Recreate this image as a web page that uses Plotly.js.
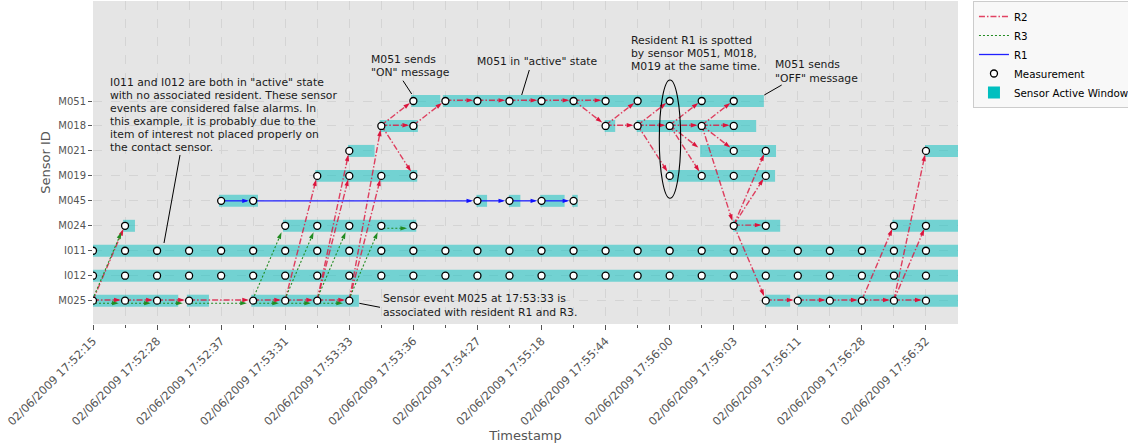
<!DOCTYPE html>
<html><head><meta charset="utf-8">
<script src="https://cdn.plot.ly/plotly-3.0.1.min.js"></script>
<style>html,body{margin:0;padding:0;background:#fff;}#chart{width:1128px;height:443px;}</style>
</head><body><div id="chart"></div>
<script>
// ---------- data ----------
const sensors = ['M025','I012','I011','M024','M045','M019','M021','M018','M051'];
const tickIdx = [0,2,4,6,8,10,12,14,16,18,20,22,24,26];
const tickLabels = ['02/06/2009 17:52:15','02/06/2009 17:52:28','02/06/2009 17:52:37','02/06/2009 17:53:31',
  '02/06/2009 17:53:33','02/06/2009 17:53:36','02/06/2009 17:54:27','02/06/2009 17:55:18',
  '02/06/2009 17:55:44','02/06/2009 17:56:00','02/06/2009 17:56:03','02/06/2009 17:56:11',
  '02/06/2009 17:56:28','02/06/2009 17:56:32'];

// measurement event indices per sensor
const measM025 = [0,1,2,3,5,6,7,8,21,22,23,24,25,26];
const measI012 = [0,1,2,3,4,5,6,7,8,9,10,11,12,13,14,15,16,17,18,19,20,21,22,23,24,25,26];
const measI011 = [0,1,2,3,4,5,6,7,8,9,10,11,12,13,14,15,16,17,18,19,20,21,22,23,24,25,26];
const measM024 = [1,6,7,8,9,10,20,21,25,26];
const measM045 = [4,5,12,13,14,15];
const measM019 = [7,8,9,10,18,19,20,21];
const measM021 = [8,20,21,26];
const measM018 = [9,10,16,17,18,19,20];
const measM051 = [10,11,12,13,14,15,16,17,18,19,20];

// sensor active windows [start, end] per sensor
const winM025 = [[0,2.66],[2.93,3.62],[4.94,8.3],[20.99,21.76],[22,27]];
const winI012 = [[0,27]];
const winI011 = [[0,27]];
const winM024 = [[0.94,1.31],[5.93,10.09],[19.98,21.45],[24.95,27]];
const winM045 = [[3.93,5.15],[11.97,12.3],[12.98,13.34],[13.96,14.72],[14.96,15.13]];
const winM019 = [[6.94,10.12],[17.94,21.29]];
const winM021 = [[7.96,8.79],[18.95,21.32],[25.97,27]];
const winM018 = [[8.95,10.14],[15.97,16.3],[16.97,20.7]];
const winM051 = [[9.93,10.84],[10.92,20.94]];

// resident transitions [fromSensor, fromIdx, toSensor, toIdx]
const pathR2 = [
 ['M025',0,'M024',1],['M025',0,'M025',1],['M025',1,'M025',2],['M025',2,'M025',3],['M025',3,'M025',5],
 ['M025',5,'M025',6],['M025',6,'M025',7],['M025',7,'M025',8],
 ['M025',6,'M019',7],['M025',7,'M021',8],['M025',7,'M019',8],['M025',8,'M019',9],['M025',8,'M018',9],
 ['M018',9,'M018',10],['M018',9,'M051',10],['M018',9,'M019',10],['M018',10,'M051',11],
 ['M051',11,'M051',12],['M051',12,'M051',13],['M051',13,'M051',14],['M051',14,'M051',15],['M051',15,'M051',16],
 ['M051',15,'M018',16],['M018',16,'M018',17],['M018',16,'M051',17],
 ['M018',17,'M051',18],['M018',17,'M018',18],['M018',17,'M019',18],
 ['M018',18,'M051',19],['M018',18,'M018',19],['M018',18,'M021',19],['M018',18,'M019',19],
 ['M018',19,'M051',20],['M018',19,'M018',20],['M018',19,'M021',20],['M018',19,'M024',20],
 ['M024',20,'M024',21],['M024',20,'M021',21],['M024',20,'M019',21],['M024',20,'M025',21],
 ['M025',21,'M025',22],['M025',22,'M025',23],['M025',23,'M025',24],['M025',24,'M025',25],['M025',25,'M025',26],
 ['M025',24,'M024',25],['M025',25,'M024',26],['M025',25,'M021',26]
];
const pathR3 = [
 ['M025',0,'M024',1],['M025',0,'M025',1],['M025',1,'M025',2],['M025',2,'M025',3],['M025',3,'M025',5],
 ['M025',5,'M025',6],['M025',6,'M025',7],['M025',7,'M025',8],
 ['M025',5,'M024',6],['M025',6,'M024',7],['M025',7,'M024',8],['M025',8,'M024',9],['M024',9,'M024',10]
];
const pathR1 = [
 ['M045',4,'M045',5],['M045',5,'M045',12],['M045',12,'M045',13],['M045',13,'M045',14],['M045',14,'M045',15]
];

// ---------- layout geometry ----------
const W = 1128, H = 443;
const MARG = {l:93, r:170, t:1, b:119, autoexpand:false};
const XR = [0, 27], YR = [-0.934, 12.006];
const pxX = (W - MARG.l - MARG.r) / (XR[1] - XR[0]);
const pxY = (H - MARG.t - MARG.b) / (YR[1] - YR[0]);
const toX = px => XR[0] + (px - MARG.l) / pxX;
const toY = py => YR[1] - (py - MARG.t) / pxY;

const measBySensor = {M025:measM025,I012:measI012,I011:measI011,M024:measM024,M045:measM045,M019:measM019,M021:measM021,M018:measM018,M051:measM051};
const winBySensor = {M025:winM025,I012:winI012,I011:winI011,M024:winM024,M045:winM045,M019:winM019,M021:winM021,M018:winM018,M051:winM051};

// bars
const barY = [], barBase = [], barLen = [];
sensors.forEach((s, r) => winBySensor[s].forEach(w => { barY.push(r); barBase.push(w[0]); barLen.push(w[1]-w[0]); }));
// measurements
const mX = [], mY = [];
sensors.forEach((s, r) => measBySensor[s].forEach(i => { mX.push(i); mY.push(r); }));

function buildArrows(path, off, gap) {
  const lx = [], ly = [], hx = [], hy = [], ha = [];
  path.forEach(([s1,i1,s2,i2]) => {
    const X1 = i1*pxX + off[0], Y1 = -sensors.indexOf(s1)*pxY + off[1];
    const X2 = i2*pxX + off[0], Y2 = -sensors.indexOf(s2)*pxY + off[1];
    const dx = X2-X1, dy = Y2-Y1, len = Math.hypot(dx,dy);
    const ux = dx/len, uy = dy/len;
    const tx = X2 - ux*gap, ty = Y2 - uy*gap;
    lx.push(X1/pxX, (tx - ux*2)/pxX, null);
    ly.push(-Y1/pxY, -(ty - uy*2)/pxY, null);
    hx.push(tx/pxX); hy.push(-ty/pxY);
    ha.push(Math.atan2(ux, -uy)*180/Math.PI);
  });
  return {lx, ly, hx, hy, ha};
}
const a2 = buildArrows(pathR2, [0,-0.7], 4.3);
const a3 = buildArrows(pathR3, [-2,2.5], 4.3);
const a1 = buildArrows(pathR1, [0,0], 4.3);

const FONT = 'DejaVu Sans, Verdana, sans-serif';
const traces = [
  {type:'bar', orientation:'h', y:barY, base:barBase, x:barLen, width:0.48,
   marker:{color:'rgba(0,191,191,0.5)', line:{width:0}}, showlegend:false, hoverinfo:'skip'},
  {type:'bar', orientation:'h', y:[null], x:[null], name:'Sensor Active Window', legendrank:5,
   marker:{color:'rgb(0,191,191)'}, showlegend:true},
  {type:'scatter', mode:'lines', x:a2.lx, y:a2.ly, name:'R2', legendrank:1,
   line:{color:'rgba(220,20,60,0.8)', width:1.4, dash:'6px,2px,1.5px,2px'}},
  {type:'scatter', mode:'lines', x:a3.lx, y:a3.ly, name:'R3', legendrank:2,
   line:{color:'#228B22', width:1.1, dash:'2px,2px'}},
  {type:'scatter', mode:'lines', x:a1.lx, y:a1.ly, name:'R1', legendrank:3,
   line:{color:'#2020ff', width:1.3}},
  {type:'scatter', mode:'markers', x:a2.hx, y:a2.hy, showlegend:false, hoverinfo:'skip',
   marker:{symbol:'arrow', size:7, angle:a2.ha, color:'#dc143c', line:{width:0}}},
  {type:'scatter', mode:'markers', x:a3.hx, y:a3.hy, showlegend:false, hoverinfo:'skip',
   marker:{symbol:'arrow', size:7, angle:a3.ha, color:'#228B22', line:{width:0}}},
  {type:'scatter', mode:'markers', x:a1.hx, y:a1.hy, showlegend:false, hoverinfo:'skip',
   marker:{symbol:'arrow', size:7, angle:a1.ha, color:'#1010ff', line:{width:0}}},
  {type:'scatter', mode:'markers', x:mX, y:mY, name:'Measurement', legendrank:4,
   marker:{symbol:'circle', size:7, color:'#ffffff', line:{color:'#000000', width:1.3}}}
];

// text notes: one annotation per line, placed at measured pixel centres
function note(px, py0, step, lines) {
  return lines.map((t, k) => ({x:toX(px), y:toY(py0 + k*step), xref:'x', yref:'y', text:t, showarrow:false,
    xanchor:'left', yanchor:'middle', align:'left', borderpad:0, borderwidth:0,
    font:{family:FONT, size:10.8, color:'#1a1a1a'}}));
}
const seg = (x0,y0,x1,y1) => ({type:'line', xref:'x', yref:'y', x0:toX(x0), y0:toY(y0), x1:toX(x1), y1:toY(y1),
  line:{color:'#000', width:1}});

const annotations = [].concat(
  note(110, 82.7, 12.9, ['I011 and I012 are both in "active" state','with no associated resident. These sensor',
    'events are considered false alarms. In','this example, it is probably due to the',
    'item of interest not placed properly on','the contact sensor.']),
  note(370.5, 59.3, 13.2, ['M051 sends','"ON" message']),
  note(476.5, 61, 13, ['M051 in "active" state']),
  note(631, 40, 13.3, ['Resident R1 is spotted','by sensor M051, M018,','M019 at the same time.']),
  note(775, 64.5, 13.8, ['M051 sends','"OFF" message']),
  note(382.7, 298.5, 14, ['Sensor event M025 at 17:53:33 is','associated with resident R1 and R3.'])
);

const layout = {
  width:W, height:H, autosize:false,
  margin:MARG,
  paper_bgcolor:'#ffffff', plot_bgcolor:'#e5e5e5',
  barmode:'overlay',
  font:{family:FONT, size:10, color:'#555'},
  xaxis:{range:XR, tickmode:'array', tickvals:tickIdx, ticktext:tickLabels, tickangle:-45, automargin:true,
    showgrid:true, gridcolor:'#d4d4d4', griddash:'dash', gridwidth:1, zeroline:false, showline:false,
    ticks:'outside', ticklen:5, tickcolor:'#555', tickfont:{family:FONT, size:11.3, color:'#555'},
    minor:{tickmode:'array', tickvals:[1,3,5,7,9,11,13,15,17,19,21,23,25], ticks:'outside', ticklen:3,
      tickcolor:'#555', showgrid:true, gridcolor:'#d4d4d4', griddash:'dash'},
    title:{text:'Timestamp', font:{family:FONT, size:13, color:'#555'}, standoff:2}},
  yaxis:{range:YR, tickmode:'array', tickvals:sensors.map((s,i)=>i), ticktext:sensors,
    showgrid:true, gridcolor:'#d4d4d4', griddash:'dash', zeroline:false, showline:false,
    ticks:'outside', ticklen:4, tickcolor:'#555', tickfont:{family:FONT, size:10, color:'#555'},
    title:{text:'Sensor ID', font:{family:FONT, size:13, color:'#555'}, standoff:4}},
  legend:{x:1.0173, xanchor:'left', y:1, yanchor:'top', bgcolor:'#f8f8f8', bordercolor:'#cccccc', borderwidth:1,
    font:{family:FONT, size:10.3, color:'#000'}, traceorder:'normal'},
  annotations:annotations,
  shapes:[
    seg(180,155,164,243),
    seg(403,80.7,411.7,94),
    seg(529.3,70,521.7,95),
    seg(764.3,95,781.7,85),
    seg(359.3,303.3,380,307.3),
    {type:'circle', xref:'x', yref:'y', x0:toX(659.3), x1:toX(680.7), y0:toY(198.3), y1:toY(80),
     line:{color:'#000', width:1.1}, fillcolor:'rgba(0,0,0,0)'}
  ]
};

Plotly.newPlot('chart', traces, layout, {displayModeBar:false, staticPlot:true});
</script></body></html>
